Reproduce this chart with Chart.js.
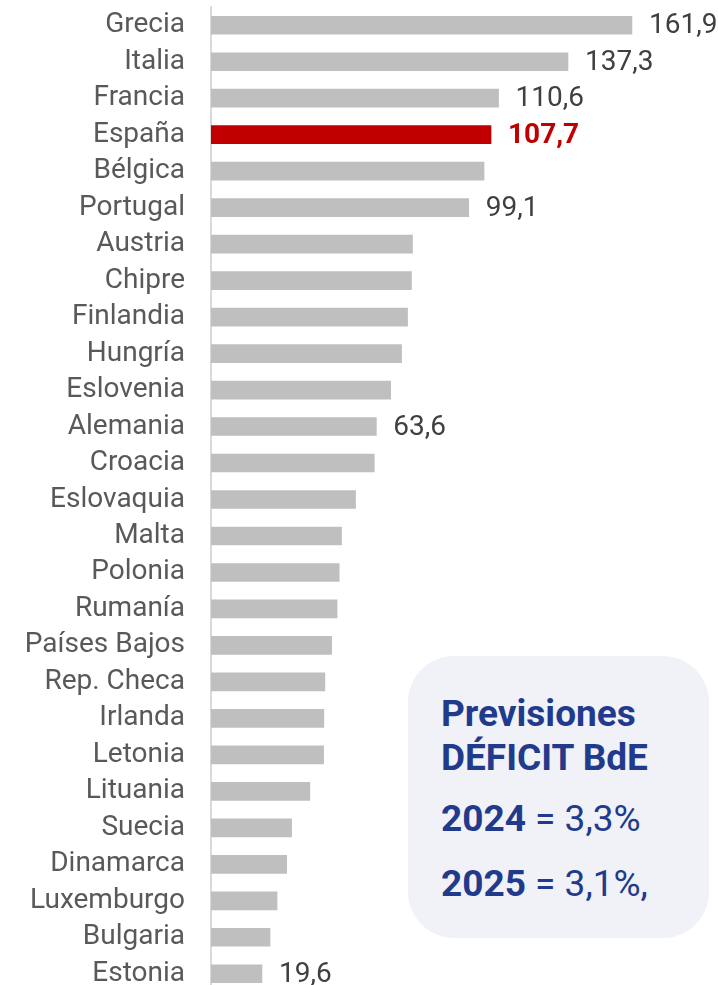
<!DOCTYPE html>
<html>
<head>
<meta charset="utf-8">
<script src="https://cdn.jsdelivr.net/npm/chart.js@4.4.1/dist/chart.umd.min.js"></script>
<style>
  html, body { margin: 0; padding: 0; background: #fff; overflow: hidden; }
  #wrap { position: relative; width: 718px; height: 992px; }
  #caja {
    position: absolute; left: 408px; top: 656px; width: 301px; height: 282px;
    background: #f0f2f8; border-radius: 46px; box-sizing: border-box;
    color: #223a8c; font-family: Roboto, sans-serif;
  }
  #caja .tit { position: absolute; left: 33px; top: 36px; font-weight: bold; font-size: 37px; line-height: 44px; }
  #caja .lin { position: absolute; left: 33px; font-size: 37px; white-space: nowrap; }
  #caja .lin b { font-weight: bold; }
</style>
</head>
<body>
<div id="wrap">
  <canvas id="grafico" width="718" height="992"></canvas>
  <div id="caja">
    <div class="tit">Previsiones<br>DÉFICIT BdE</div>
    <div class="lin" style="top:141px"><b>2024</b> = 3,3%</div>
    <div class="lin" style="top:206px"><b>2025</b> = 3,1%,</div>
  </div>
</div>
<script>
'use strict'

var paises = ['Grecia', 'Italia', 'Francia', 'España', 'Bélgica', 'Portugal', 'Austria', 'Chipre',
	'Finlandia', 'Hungría', 'Eslovenia', 'Alemania', 'Croacia', 'Eslovaquia', 'Malta', 'Polonia',
	'Rumanía', 'Países Bajos', 'Rep. Checa', 'Irlanda', 'Letonia', 'Lituania', 'Suecia', 'Dinamarca',
	'Luxemburgo', 'Bulgaria', 'Estonia'];

// deuda pública, % del PIB
var deuda = [161.9, 137.3, 110.6, 107.7, 105.0, 99.1, 77.5, 77.1, 75.6, 73.3, 69.1, 63.6, 62.8,
	55.6, 50.2, 49.3, 48.5, 46.4, 43.8, 43.4, 43.3, 38.0, 31.0, 29.1, 25.4, 22.7, 19.6];

// barras que llevan su valor escrito
var conEtiqueta = ['Grecia', 'Italia', 'Francia', 'España', 'Portugal', 'Alemania', 'Estonia'];

var destacado = 'España';

var colores = paises.map(function (p) { return p === destacado ? '#c00000' : '#bfbfbf'; });

// escribe el valor al final de la barra
var etiquetas = {
	id: 'etiquetas',
	afterDatasetsDraw: function (chart) {
		var ctx = chart.ctx,
			meta = chart.getDatasetMeta(0);
		ctx.save();
		ctx.textBaseline = 'middle';
		ctx.textAlign = 'left';
		meta.data.forEach(function (bar, i) {
			if (conEtiqueta.indexOf(paises[i]) < 0) return;
			var rojo = paises[i] === destacado;
			ctx.fillStyle = rojo ? '#c00000' : '#404040';
			ctx.font = (rojo ? 'bold ' : '') + '28px Roboto';
			ctx.fillText(deuda[i].toFixed(1).replace('.', ','), bar.x + 17, bar.y + 1);
		});
		ctx.restore();
	}
};

new Chart(document.getElementById('grafico'), {
	type: 'bar',
	data: {
		labels: paises,
		datasets: [{
			data: deuda,
			backgroundColor: colores,
			barThickness: 18
		}]
	},
	options: {
		indexAxis: 'y',
		responsive: false,
		animation: false,
		devicePixelRatio: 1,
		layout: { padding: { top: 7, right: 0, bottom: 0, left: 0 } },
		plugins: { legend: { display: false }, tooltip: { enabled: false } },
		scales: {
			x: { display: false, min: 0, max: 195 },
			y: {
				afterFit: function (s) {
					s.width = 211;
					s.paddingTop = 0;
					s.paddingBottom = 0;
				},
				grid: { display: false, drawTicks: false },
				border: { display: true, color: '#d9d9d9', width: 2 },
				ticks: { autoSkip: false, padding: 26, color: '#595959', font: { family: 'Roboto', size: 28 } }
			}
		}
	},
	plugins: [etiquetas]
});
</script>
</body>
</html>
